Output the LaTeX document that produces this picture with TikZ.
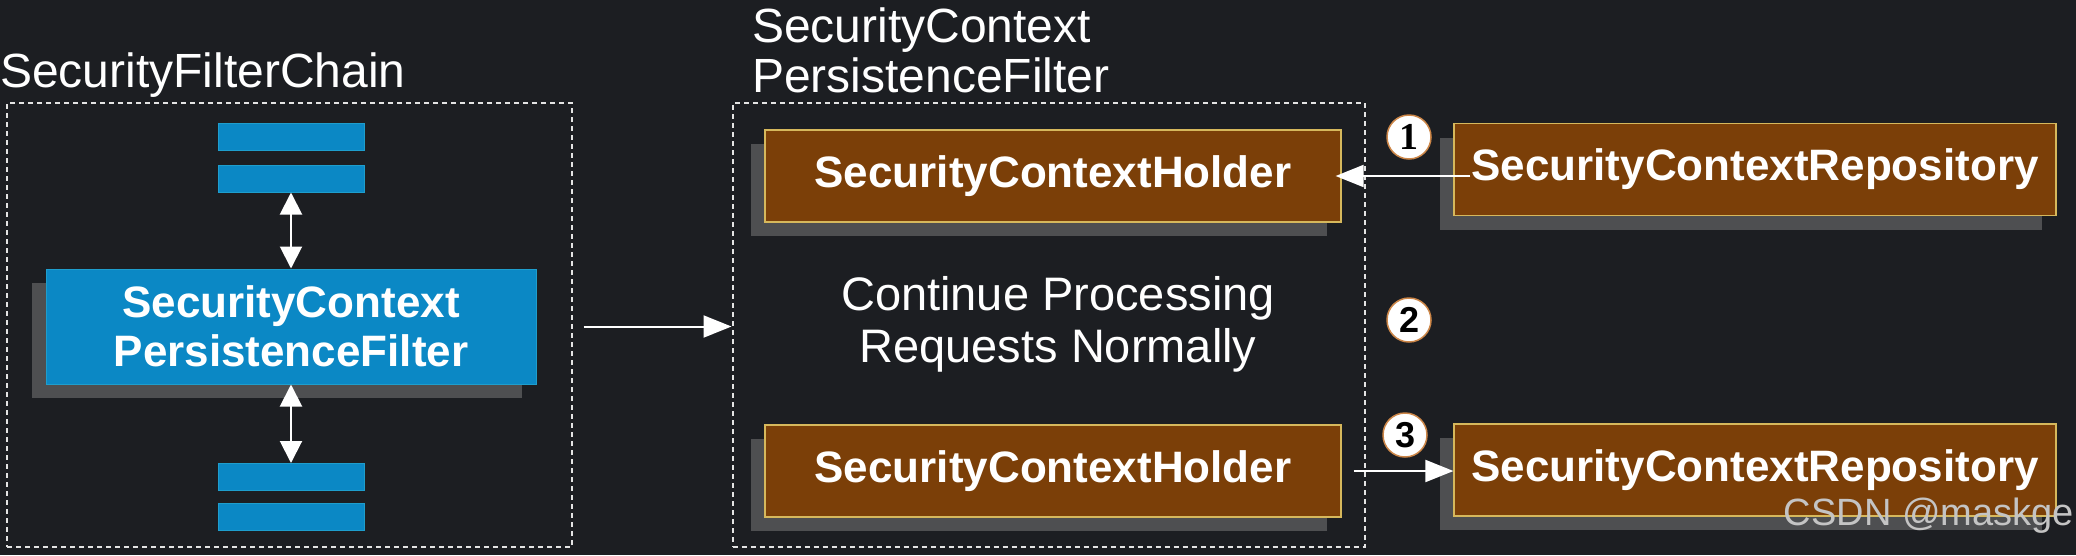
\documentclass[tikz,border=0pt]{standalone}
\usepackage{fontspec}
\setmainfont{Liberation Sans}
\newfontfamily\numserif{Liberation Serif}
\usetikzlibrary{arrows.meta,shadows}

\definecolor{bgdark}{RGB}{28,30,34}
\definecolor{filterblue}{RGB}{11,136,197}
\definecolor{filterline}{RGB}{30,158,205}
\definecolor{holdbrown}{RGB}{123,63,8}
\definecolor{holdline}{RGB}{214,184,92}
\definecolor{shadowgray}{RGB}{78,79,81}
\definecolor{dashwhite}{RGB}{228,228,228}
\definecolor{numring}{RGB}{204,134,72}
\definecolor{markgray}{RGB}{196,196,196}

\begin{document}
\begin{tikzpicture}[x=1pt,y=-1pt,
    every node/.style={text=white},
    plaintext/.style={inner sep=0pt, font=\fontsize{48}{50}\selectfont},
    chainbox/.style={draw=dashwhite, line width=2pt, dash pattern=on 5pt off 4pt, inner sep=0pt},
    flatshadow/.style={drop shadow={shadow xshift=-14pt, shadow yshift=-14pt, fill=shadowgray, opacity=1}},
    bar/.style={fill=filterblue, draw=filterline, line width=1pt, minimum width=146pt, minimum height=27pt, inner sep=0pt},
    filterbox/.style={fill=filterblue, draw=filterline, line width=1pt, minimum width=490pt, minimum height=115pt,
      align=center, font=\bfseries\fontsize{44}{49}\selectfont, flatshadow},
    holdbox/.style={fill=holdbrown, draw=holdline, line width=1.2pt, minimum width=576pt, minimum height=92pt,
      font=\bfseries\fontsize{44}{49}\selectfont, flatshadow},
    numcircle/.style={circle, fill=white, draw=numring, line width=1.5pt, minimum size=44pt, inner sep=0pt,
      text=black, font=\bfseries\fontsize{36}{36}\selectfont},
    onearrow/.style={draw=white, line width=2pt, -{Triangle[length=28pt,width=22pt]}},
    dblarrow/.style={draw=white, line width=2pt, {Triangle[length=22pt,width=22pt]}-{Triangle[length=22pt,width=22pt]}}]

    \useasboundingbox (0,0) rectangle (2076,555);
    \fill[bgdark] (0,0) rectangle (2076,555);

    % the two dashed frames and their titles
    \node[chainbox, minimum width=565pt, minimum height=444pt] (chain) at (289.5,325) {};
    \node[chainbox, minimum width=632pt, minimum height=444pt] (persist) at (1048.5,325) {};
    \node[plaintext, anchor=base west] (chaintitle) at (0,87) {SecurityFilterChain};
    \node[plaintext, anchor=north west, align=left] (persisttitle) at (752,8) {SecurityContext\\PersistenceFilter};

    % filter chain
    \node[bar] (bar1) at (291,136.5) {};
    \node[bar] (bar2) at (291,178.5) {};
    \node[filterbox] (filter) at (291,326.5) {SecurityContext\\PersistenceFilter};
    \node[bar] (bar3) at (291,477) {};
    \node[bar] (bar4) at (291,516.5) {};
    \draw[dblarrow] (bar2) -- (filter);
    \draw[dblarrow] (filter) -- (bar3);
    \draw[onearrow, shorten <=47pt] (filter.east) -- (filter.east -| persist.west);

    % inside the filter
    \node[holdbox] (holdin) at (1053,176) {SecurityContextHolder};
    \node[plaintext, align=center, font=\fontsize{47}{52}\selectfont] (cont) at (1058,324) {Continue Processing\\Requests Normally};
    \node[holdbox] (holdout) at (1053,471) {SecurityContextHolder};

    % repositories
    \node[holdbox, minimum width=602pt] (repoin) at (1755,169.5) {SecurityContextRepository};
    \node[holdbox, minimum width=602pt] (repoout) at (1755,470) {SecurityContextRepository};
    \draw[onearrow, shorten <=-17pt, shorten >=-6pt] (repoin.west |- holdin.east) -- (holdin.east);
    \draw[onearrow, shorten <=12pt] (holdout.east) -- (holdout.east -| repoout.west);

    \node[numcircle, font=\numserif\bfseries\fontsize{38}{38}\selectfont] (num1) at (1409,137) {1};
    \node[numcircle] (num2) at (1409,320) {2};
    \node[numcircle] (num3) at (1405,435) {3};

    \node[anchor=east, inner sep=0pt, text=markgray, font=\fontsize{38}{38}\selectfont] (mark) at (2074,516) {CSDN @maskge};
\end{tikzpicture}
\end{document}
